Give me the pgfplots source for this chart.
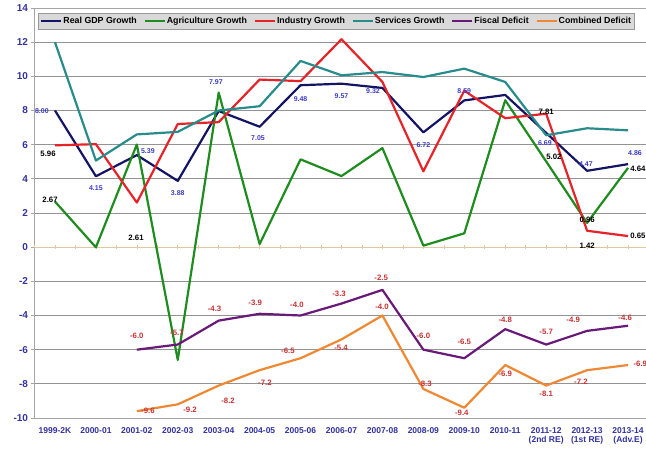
\documentclass[border=0pt]{standalone}
\usepackage{pgfplots}
\pgfplotsset{compat=1.18}
\usepackage{fontspec}
\setmainfont{Liberation Sans}
\definecolor{cgdp}{RGB}{20,20,100}
\definecolor{cagr}{RGB}{30,140,30}
\definecolor{cind}{RGB}{230,35,40}
\definecolor{csrv}{RGB}{40,140,140}
\definecolor{cfis}{RGB}{105,25,120}
\definecolor{ccom}{RGB}{240,135,50}
\definecolor{ctick}{RGB}{50,50,160}
\definecolor{cblue}{RGB}{60,60,200}
\definecolor{cred}{RGB}{200,50,50}
\definecolor{ctan}{RGB}{225,200,160}
\begin{document}
\begin{tikzpicture}[x=1pt,y=1pt]
\useasboundingbox (0,0) rectangle (646,450);
\begin{axis}[
  at={(34.5pt,32pt)}, anchor=south west,
  scale only axis, width=614pt, height=410pt,
  xmin=-0.5, xmax=14.5, ymin=-10, ymax=14,
  clip=false,
  /pgf/number format/assume math mode=true,
  ytick={-10,-8,...,14},
  xtick={0,...,14},
  xticklabels={1999-2K,2000-01,2001-02,2002-03,2003-04,2004-05,2005-06,2006-07,2007-08,2008-09,2009-10,2010-11,{2011-12\\(2nd RE)},{2012-13\\(1st RE)},{2013-14\\(Adv.E)}},
  x tick label style={font=\fontsize{8.5}{9.5}\selectfont\bfseries, text=ctick, align=center, anchor=north, yshift=-3pt},
  y tick label style={font=\fontsize{10}{11}\selectfont\bfseries, text=ctick},
  xtick style={draw=none},
  ytick style={draw=gray!70, line width=0.8pt},
  tick align=outside, major tick length=3pt,
  ymajorgrids, grid style={draw=gray!85, line width=0.8pt},
  axis line style={draw=gray!70, line width=0.8pt},
  every axis plot/.append style={line width=2.2pt, mark=none, line join=round},
  legend columns=6,
  legend style={at={(axis description cs:0,1)}, anchor=north west, xshift=3.5pt, yshift=-4.7pt,
    fill=gray!30, draw=gray!80, line width=0.6pt, font=\fontsize{8.8}{10}\selectfont\bfseries,
    inner xsep=2pt, inner ysep=2pt,
    nodes={inner xsep=1pt},
    /tikz/every even column/.append style={column sep=5.8pt}},
  legend cell align=left,
  legend image code/.code={\draw[#1, line width=2.2pt] (0pt,0pt) -- (20pt,0pt);},
]
\draw[ctan, line width=0.8pt] (axis cs:-0.5,0) -- (axis cs:14.5,0);
\pgfplotsinvokeforeach{0,...,30}{\draw[ctan, line width=0.6pt] ([yshift=-1.8pt]axis cs:{-0.5+#1*0.5},0) -- ([yshift=1.8pt]axis cs:{-0.5+#1*0.5},0);}
\addplot[cgdp] coordinates {(0,8.00)(1,4.15)(2,5.39)(3,3.88)(4,7.97)(5,7.05)(6,9.48)(7,9.57)(8,9.32)(9,6.72)(10,8.59)(11,8.91)(12,6.69)(13,4.47)(14,4.86)};
\addlegendentry{Real GDP Growth}
\addplot[cagr] coordinates {(0,2.67)(1,-0.01)(2,6.01)(3,-6.6)(4,9.05)(5,0.18)(6,5.14)(7,4.16)(8,5.8)(9,0.09)(10,0.81)(11,8.6)(12,5.02)(13,1.42)(14,4.64)};
\addlegendentry{Agriculture Growth}
\addplot[cind] coordinates {(0,5.96)(1,6.03)(2,2.61)(3,7.21)(4,7.32)(5,9.81)(6,9.72)(7,12.17)(8,9.67)(9,4.44)(10,9.16)(11,7.55)(12,7.81)(13,0.96)(14,0.65)};
\addlegendentry{Industry Growth}
\addplot[csrv] coordinates {(0,12.0)(1,5.07)(2,6.6)(3,6.75)(4,8.0)(5,8.25)(6,10.9)(7,10.06)(8,10.25)(9,9.96)(10,10.45)(11,9.67)(12,6.55)(13,6.96)(14,6.84)};
\addlegendentry{Services Growth}
\addplot[cfis] coordinates {(2,-6.0)(3,-5.7)(4,-4.3)(5,-3.9)(6,-4.0)(7,-3.3)(8,-2.5)(9,-6.0)(10,-6.5)(11,-4.8)(12,-5.7)(13,-4.9)(14,-4.6)};
\addlegendentry{Fiscal Deficit}
\addplot[ccom] coordinates {(2,-9.6)(3,-9.2)(4,-8.1)(5,-7.2)(6,-6.5)(7,-5.4)(8,-4.0)(9,-8.3)(10,-9.4)(11,-6.9)(12,-8.1)(13,-7.2)(14,-6.9)};
\addlegendentry{Combined Deficit}
% blue labels (Real GDP)
\begin{scope}[every node/.style={font=\fontsize{7}{8}\selectfont\bfseries, text=cblue, inner sep=0pt}]
\node at (axis cs:-0.32,7.95) {8.00};
\node at (axis cs:1.0,3.45) {4.15};
\node at (axis cs:2.27,5.6) {5.39};
\node at (axis cs:3.0,3.16) {3.88};
\node at (axis cs:3.93,9.65) {7.97};
\node at (axis cs:4.96,6.37) {7.05};
\node at (axis cs:6.0,8.65) {9.48};
\node at (axis cs:7.0,8.83) {9.57};
\node at (axis cs:7.77,9.12) {9.32};
\node at (axis cs:9.0,6.0) {6.72};
\node at (axis cs:10.0,9.12) {8.59};
\node at (axis cs:11.97,6.08) {6.69};
\node at (axis cs:12.97,4.85) {4.47};
\node at (axis cs:14.17,5.5) {4.86};
\end{scope}
% black labels
\begin{scope}[every node/.style={font=\fontsize{7.8}{9}\selectfont\bfseries, text=black, inner sep=0pt}]
\node at (axis cs:-0.17,5.44) {5.96};
\node at (axis cs:-0.12,2.8) {2.67};
\node at (axis cs:1.98,0.53) {2.61};
\node at (axis cs:12.0,7.95) {7.81};
\node at (axis cs:12.19,5.26) {5.02};
\node at (axis cs:13.0,1.6) {0.96};
\node at (axis cs:13.0,0.06) {1.42};
\node at (axis cs:14.24,0.64) {0.65};
\node at (axis cs:14.24,4.56) {4.64};
\end{scope}
% red labels (deficits)
\begin{scope}[every node/.style={font=\fontsize{7.8}{9}\selectfont\bfseries, text=cred, inner sep=0pt}]
\node at (axis cs:2.0,-5.2) {-6.0};
\node at (axis cs:2.98,-5.03) {-5.7};
\node at (axis cs:3.9,-3.63) {-4.3};
\node at (axis cs:4.89,-3.27) {-3.9};
\node at (axis cs:5.91,-3.39) {-4.0};
\node at (axis cs:6.94,-2.75) {-3.3};
\node at (axis cs:7.97,-1.81) {-2.5};
\node at (axis cs:9.0,-5.2) {-6.0};
\node at (axis cs:10.0,-5.55) {-6.5};
\node at (axis cs:11.0,-4.27) {-4.8};
\node at (axis cs:12.0,-4.97) {-5.7};
\node at (axis cs:12.66,-4.27) {-4.9};
\node at (axis cs:13.93,-4.15) {-4.6};
\node at (axis cs:2.27,-9.6) {-9.6};
\node at (axis cs:3.3,-9.53) {-9.2};
\node at (axis cs:4.23,-9.0) {-8.2};
\node at (axis cs:5.13,-7.95) {-7.2};
\node at (axis cs:5.69,-6.08) {-6.5};
\node at (axis cs:6.99,-5.9) {-5.4};
\node at (axis cs:7.99,-3.5) {-4.0};
\node at (axis cs:9.04,-8.0) {-8.3};
\node at (axis cs:9.94,-9.7) {-9.4};
\node at (axis cs:11.0,-7.43) {-6.9};
\node at (axis cs:12.0,-8.6) {-8.1};
\node at (axis cs:12.85,-7.9) {-7.2};
\node at (axis cs:14.3,-6.84) {-6.9};
\end{scope}
\end{axis}
\end{tikzpicture}
\end{document}
